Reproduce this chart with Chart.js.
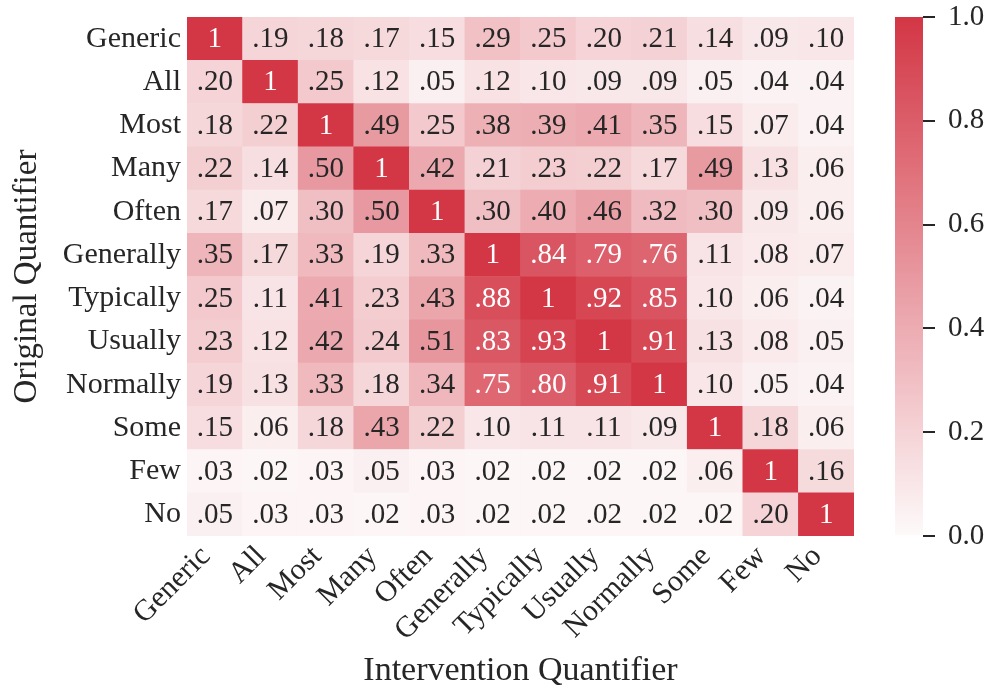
<!DOCTYPE html>
<html><head><meta charset="utf-8">
<script src="https://cdn.jsdelivr.net/npm/chart.js@4/dist/chart.umd.min.js"></script>
<style>
html,body{margin:0;padding:0;background:#fff;}
#wrap{position:relative;width:989px;height:688px;overflow:hidden;}
#main{position:absolute;left:0;top:0;}
#cb{position:absolute;left:860px;top:0;}
</style></head><body>
<div id="wrap"><canvas id="main" width="989" height="688"></canvas><canvas id="cb" width="129" height="688"></canvas></div>
<script>
// ---- data ----
const columns = ['Generic','All','Most','Many','Often','Generally','Typically','Usually','Normally','Some','Few','No'];
const rowLabels = ['Generic','All','Most','Many','Often','Generally','Typically','Usually','Normally','Some','Few','No'];
const rowGeneric   = [1, .19, .18, .17, .15, .29, .25, .20, .21, .14, .09, .10];
const rowAll       = [.20, 1, .25, .12, .05, .12, .10, .09, .09, .05, .04, .04];
const rowMost      = [.18, .22, 1, .49, .25, .38, .39, .41, .35, .15, .07, .04];
const rowMany      = [.22, .14, .50, 1, .42, .21, .23, .22, .17, .49, .13, .06];
const rowOften     = [.17, .07, .30, .50, 1, .30, .40, .46, .32, .30, .09, .06];
const rowGenerally = [.35, .17, .33, .19, .33, 1, .84, .79, .76, .11, .08, .07];
const rowTypically = [.25, .11, .41, .23, .43, .88, 1, .92, .85, .10, .06, .04];
const rowUsually   = [.23, .12, .42, .24, .51, .83, .93, 1, .91, .13, .08, .05];
const rowNormally  = [.19, .13, .33, .18, .34, .75, .80, .91, 1, .10, .05, .04];
const rowSome      = [.15, .06, .18, .43, .22, .10, .11, .11, .09, 1, .18, .06];
const rowFew       = [.03, .02, .03, .05, .03, .02, .02, .02, .02, .06, 1, .16];
const rowNo        = [.05, .03, .03, .02, .03, .02, .02, .02, .02, .02, .20, 1];
const colorbarTicks = [0, 0.2, 0.4, 0.6, 0.8, 1.0];

const rows = [rowGeneric,rowAll,rowMost,rowMany,rowOften,rowGenerally,rowTypically,rowUsually,rowNormally,rowSome,rowFew,rowNo];

// ---- style ----
const FONT = "'Liberation Serif', 'DejaVu Serif', serif";
const TXT = '#262626';
const LOW = [253,250,250], HIGH = [211,54,69];
function cmap(v){
  const c = LOW.map((l,k)=>Math.round(l + (HIGH[k]-l)*v));
  return `rgb(${c[0]},${c[1]},${c[2]})`;
}
function fmt(v){ return v === 1 ? '1' : v.toFixed(2).replace(/^0/, ''); }

// one stacked dataset per row, bottom row first
const datasets = rowLabels.map((r,i)=>({
  label: r,
  values: rows[i],
  data: columns.map(()=>1),
  backgroundColor: rows[i].map(cmap),
  borderWidth: 0,
  barPercentage: 1,
  categoryPercentage: 1
})).reverse();

const cellLabels = {
  id: 'cellLabels',
  afterDatasetsDraw(chart){
    const ctx = chart.ctx;
    ctx.save();
    ctx.font = `29px ${FONT}`;
    ctx.textAlign = 'center';
    ctx.textBaseline = 'middle';
    chart.data.datasets.forEach((ds, di)=>{
      const meta = chart.getDatasetMeta(di);
      meta.data.forEach((el, j)=>{
        const v = ds.values[j];
        ctx.fillStyle = v >= 0.6 ? '#ffffff' : TXT;
        ctx.fillText(fmt(v), el.x, (el.y + el.base)/2 + 1);
      });
    });
    ctx.restore();
  }
};

const noVPad = s => { s.paddingTop = 0; s.paddingBottom = 0; };

new Chart(document.getElementById('main'), {
  type: 'bar',
  data: { labels: columns, datasets },
  options: {
    responsive: false, animation: false, events: [], devicePixelRatio: 1,
    layout: { padding: { left: 0, right: 135, top: 17, bottom: 0 } },
    plugins: { legend: { display: false }, tooltip: { enabled: false } },
    scales: {
      x: {
        type: 'category', stacked: true, offset: true,
        grid: { display: false }, border: { display: false },
        ticks: { autoSkip: false, minRotation: 45, maxRotation: 45, padding: -5, labelOffset: -9,
                 color: TXT, font: { family: FONT, size: 30 } },
        title: { display: true, text: 'Intervention Quantifier', color: TXT,
                 font: { family: FONT, size: 34, lineHeight: 1.0 }, padding: { top: 0, bottom: 0 } },
        afterFit: s => { s.height = 152; }
      },
      y: { type: 'linear', stacked: true, min: 0, max: 12, display: false },
      yl: {
        type: 'category', labels: rowLabels, position: 'left', offset: true,
        grid: { display: false }, border: { display: false },
        ticks: { padding: -2, color: TXT, font: { family: FONT, size: 30 } },
        title: { display: true, text: 'Original Quantifier', color: TXT,
                 font: { family: FONT, size: 33 }, padding: { top: 8, bottom: 0 } },
        afterFit: s => { s.width = 187; noVPad(s); }
      }
    }
  },
  plugins: [cellLabels]
});

// ---- colorbar ----
new Chart(document.getElementById('cb'), {
  type: 'bar',
  data: { labels: [''], datasets: [{
    data: [[colorbarTicks[0], colorbarTicks[colorbarTicks.length-1]]],
    borderWidth: 0, barPercentage: 1, categoryPercentage: 1,
    backgroundColor: (c)=>{
      const ca = c.chart.chartArea;
      if (!ca) return cmap(1);
      const g = c.chart.ctx.createLinearGradient(0, ca.bottom, 0, ca.top);
      for (let k=0;k<=20;k++) g.addColorStop(k/20, cmap(k/20));
      return g;
    }
  }]},
  options: {
    responsive: false, animation: false, events: [], devicePixelRatio: 1,
    layout: { padding: { left: 35, right: 0, top: 17, bottom: 152 } },
    plugins: { legend: { display: false }, tooltip: { enabled: false } },
    scales: {
      x: { display: false, offset: true },
      y: {
        position: 'right', min: 0, max: 1,
        afterBuildTicks: s => { s.ticks = colorbarTicks.map(v=>({value:v})); },
        ticks: { callback: v => Number(v).toFixed(1), padding: 13, color: TXT, font: { family: FONT, size: 29 } },
        grid: { drawOnChartArea: false, tickLength: 12, tickColor: TXT, tickWidth: 2, lineWidth: 2 },
        border: { display: false },
        afterFit: s => { s.width = 66; noVPad(s); }
      }
    }
  }
});
</script>
</body></html>
